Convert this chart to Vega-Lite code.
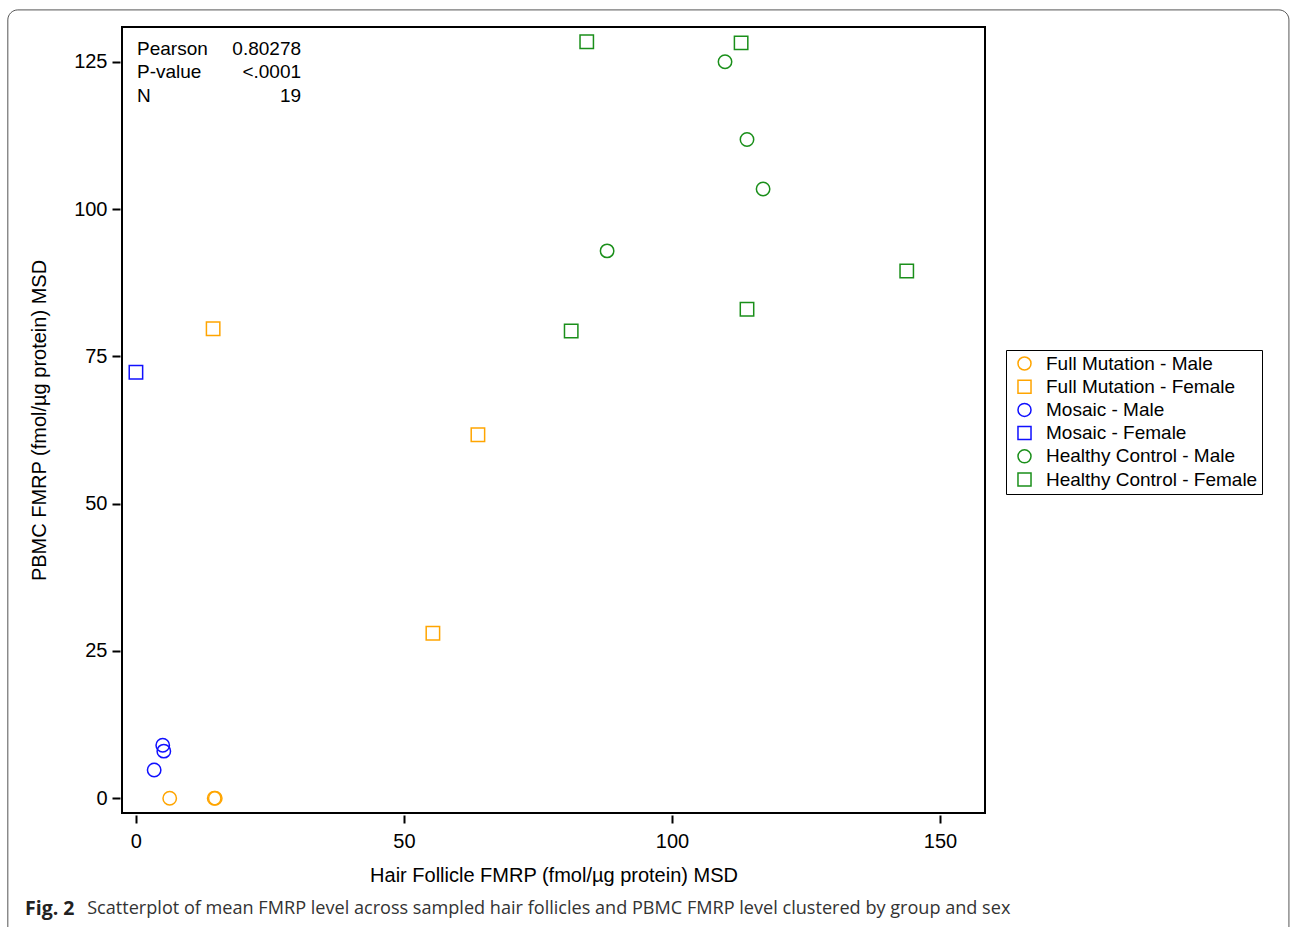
{
  "$schema": "https://vega.github.io/schema/vega-lite/v6.json",
  "width": 863,
  "height": 786,
  "autosize": {"type": "none"},
  "padding": {"left": 122, "top": 27, "right": 305, "bottom": 114},
  "background": "white",
  "config": {
    "view": {"stroke": "black", "strokeWidth": 2},
    "font": "Liberation Sans",
    "axis": {
      "domain": false,
      "grid": false,
      "tickColor": "black",
      "tickWidth": 2,
      "tickSize": 8,
      "labelFont": "Liberation Sans",
      "labelFontSize": 20,
      "labelColor": "black",
      "titleFont": "Liberation Sans",
      "titleFontSize": 20,
      "titleFontWeight": "normal",
      "titleColor": "black"
    }
  },
  "layer": [
    {
      "data": {"values": [{"frame": "outer"}]},
      "mark": {"type": "rect", "fill": null, "stroke": "#555555", "strokeWidth": 1, "cornerRadius": 10, "clip": false},
      "encoding": {
        "x": {"datum": -23.9, "type": "quantitative"},
        "x2": {"datum": 215.1},
        "y": {"datum": 133.8, "type": "quantitative"},
        "y2": {"datum": -24.5}
      }
    },
    {
      "data": {
        "values": [
          {"series": "Full Mutation - Male", "hair": 6.3, "pbmc": 0},
          {"series": "Full Mutation - Male", "hair": 14.6, "pbmc": 0},
          {"series": "Full Mutation - Male", "hair": 14.8, "pbmc": 0},
          {"series": "Full Mutation - Female", "hair": 14.4, "pbmc": 79.7},
          {"series": "Full Mutation - Female", "hair": 63.8, "pbmc": 61.7},
          {"series": "Full Mutation - Female", "hair": 55.4, "pbmc": 28.0},
          {"series": "Mosaic - Male", "hair": 5.0, "pbmc": 9.0},
          {"series": "Mosaic - Male", "hair": 5.2, "pbmc": 8.0},
          {"series": "Mosaic - Male", "hair": 3.4, "pbmc": 4.8},
          {"series": "Mosaic - Female", "hair": 0.0, "pbmc": 72.3},
          {"series": "Healthy Control - Male", "hair": 109.9, "pbmc": 125.0},
          {"series": "Healthy Control - Male", "hair": 114.0, "pbmc": 111.8},
          {"series": "Healthy Control - Male", "hair": 117.0, "pbmc": 103.4},
          {"series": "Healthy Control - Male", "hair": 87.9, "pbmc": 92.9},
          {"series": "Healthy Control - Female", "hair": 84.1, "pbmc": 128.4},
          {"series": "Healthy Control - Female", "hair": 112.9, "pbmc": 128.2},
          {"series": "Healthy Control - Female", "hair": 143.8, "pbmc": 89.5},
          {"series": "Healthy Control - Female", "hair": 114.0, "pbmc": 83.0},
          {"series": "Healthy Control - Female", "hair": 81.2, "pbmc": 79.3}
        ]
      },
      "mark": {"type": "point", "filled": false, "strokeWidth": 1.5, "size": 180, "opacity": 1},
      "encoding": {
        "x": {
          "field": "hair", "type": "quantitative",
          "scale": {"domain": [-2.6, 158.4], "nice": false, "zero": false},
          "axis": {"values": [0, 50, 100, 150], "offset": 2, "labelPadding": 8, "titlePadding": 14,
                   "title": "Hair Follicle FMRP (fmol/µg protein) MSD"}
        },
        "y": {
          "field": "pbmc", "type": "quantitative",
          "scale": {"domain": [-2.5, 130.9], "nice": false, "zero": false},
          "axis": {"values": [0, 25, 50, 75, 100, 125], "offset": 2, "labelPadding": 5, "titlePadding": 24,
                   "title": "PBMC FMRP (fmol/µg protein) MSD"}
        },
        "color": {
          "field": "series", "type": "nominal",
          "scale": {
            "domain": ["Full Mutation - Male", "Full Mutation - Female", "Mosaic - Male", "Mosaic - Female", "Healthy Control - Male", "Healthy Control - Female"],
            "range": ["#FFA500", "#FFA500", "#1010FF", "#1010FF", "#1A8F1A", "#1A8F1A"]
          },
          "legend": {
            "title": null,
            "orient": "none",
            "legendX": 884,
            "legendY": 323,
            "strokeColor": "black",
            "fillColor": "white",
            "padding": 4,
            "symbolOffset": 5,
            "labelOffset": 12,
            "labelFont": "Liberation Sans",
            "labelFontSize": 19,
            "labelColor": "black",
            "rowPadding": 2.2,
            "symbolSize": 170,
            "symbolStrokeWidth": 1.5,
            "labelLimit": 400
          }
        },
        "shape": {
          "field": "series", "type": "nominal",
          "scale": {
            "domain": ["Full Mutation - Male", "Full Mutation - Female", "Mosaic - Male", "Mosaic - Female", "Healthy Control - Male", "Healthy Control - Female"],
            "range": ["circle", "square", "circle", "square", "circle", "square"]
          },
          "legend": {
            "title": null,
            "orient": "none",
            "legendX": 884,
            "legendY": 323,
            "strokeColor": "black",
            "fillColor": "white",
            "padding": 4,
            "symbolOffset": 5,
            "labelOffset": 12,
            "labelFont": "Liberation Sans",
            "labelFontSize": 19,
            "labelColor": "black",
            "rowPadding": 2.2,
            "symbolSize": 170,
            "symbolStrokeWidth": 1.5,
            "labelLimit": 400
          }
        }
      }
    },
    {
      "data": {"values": [{"labels": "Pearson\nP-value\nN", "values": "0.80278\n<.0001\n19"}]},
      "layer": [
        {
          "mark": {"type": "text", "align": "left", "baseline": "middle", "fontSize": 19, "lineHeight": 23.5, "lineBreak": "\n", "font": "Liberation Sans", "color": "black"},
          "encoding": {
            "x": {"datum": 0.2, "type": "quantitative"},
            "y": {"datum": 127.2, "type": "quantitative"},
            "text": {"field": "labels"}
          }
        },
        {
          "mark": {"type": "text", "align": "right", "baseline": "middle", "fontSize": 19, "lineHeight": 23.5, "lineBreak": "\n", "font": "Liberation Sans", "color": "black"},
          "encoding": {
            "x": {"datum": 30.8, "type": "quantitative"},
            "y": {"datum": 127.2, "type": "quantitative"},
            "text": {"field": "values"}
          }
        }
      ]
    },
    {
      "data": {"values": [{"fig": "Fig. 2", "caption": "Scatterplot of mean FMRP level across sampled hair follicles and PBMC FMRP level clustered by group and sex"}]},
      "layer": [
        {
          "mark": {"type": "text", "align": "left", "baseline": "middle", "fontSize": 19.5, "fontWeight": "bold", "font": "Open Sans", "color": "#222222", "clip": false},
          "encoding": {
            "x": {"datum": -20.7, "type": "quantitative"},
            "y": {"datum": -18.8, "type": "quantitative"},
            "text": {"field": "fig"}
          }
        },
        {
          "mark": {"type": "text", "align": "left", "baseline": "middle", "fontSize": 18.1, "font": "Open Sans", "color": "#333333", "clip": false},
          "encoding": {
            "x": {"datum": -9.1, "type": "quantitative"},
            "y": {"datum": -18.8, "type": "quantitative"},
            "text": {"field": "caption"}
          }
        }
      ]
    }
  ]
}
